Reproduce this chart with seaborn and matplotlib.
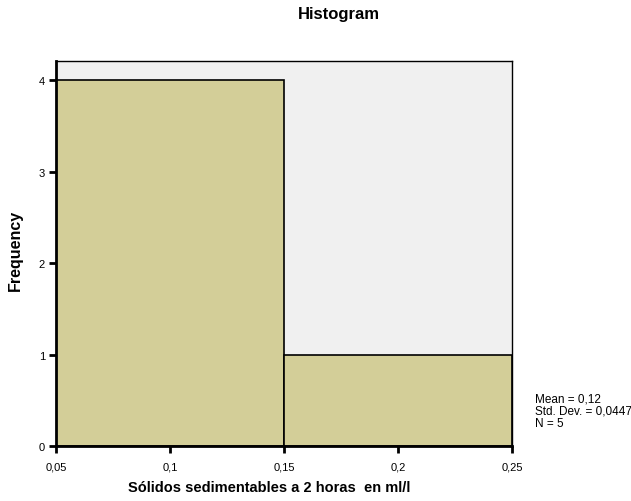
import numpy as np
import seaborn as sns
import matplotlib.pyplot as plt

# data
solidos = [0.1, 0.1, 0.1, 0.1, 0.2]
bin_edges = [0.05, 0.15, 0.25]
x_ticks = [0.05, 0.1, 0.15, 0.2, 0.25]
x_ticklabels = ["0,05", "0,1", "0,15", "0,2", "0,25"]
y_ticks = [0, 1, 2, 3, 4]
stats_text = "Mean = 0,12\nStd. Dev. = 0,0447\nN = 5"

sns.set_style("white")
plt.rcParams['font.family'] = ['Liberation Sans', 'DejaVu Sans']
plt.rcParams['text.color'] = 'black'
plt.rcParams['xtick.color'] = 'black'
plt.rcParams['ytick.color'] = 'black'

fig = plt.figure(figsize=(6.31, 5.02), dpi=100)
ax = fig.add_axes([56/631, 55/502, 456/631, 385/502])
ax.set_facecolor("#f0f0f0")

sns.histplot(x=solidos, bins=bin_edges, stat="count", ax=ax,
             color="#d3ce98", alpha=1, edgecolor="black", linewidth=1.2)

ax.set_xlim(0.05, 0.25)
ax.set_ylim(0, 4.21)
ax.set_xticks(x_ticks)
ax.set_xticklabels(x_ticklabels)
ax.set_yticks(y_ticks)
ax.tick_params(axis="both", direction="out", length=5, width=2, labelsize=8,
               color="black", labelcolor="black", bottom=True, left=True)
ax.tick_params(axis="x", pad=6)
ax.tick_params(axis="y", pad=3)
ax.set_xlabel("")
ax.set_ylabel("")

for side in ["left", "bottom"]:
    ax.spines[side].set_linewidth(2)
    ax.spines[side].set_color("black")
for side in ["top", "right"]:
    ax.spines[side].set_linewidth(1)
    ax.spines[side].set_color("black")

fig.text(339/631, 1 - 14/502, "Histogram", ha="center", va="center",
         fontsize=12, fontweight="bold")
fig.text(269/631, 1 - 488/502, "Sólidos sedimentables a 2 horas  en ml/l",
         ha="center", va="center", fontsize=10.5, fontweight="bold")
fig.text(15/631, 1 - 250/502, "Frequency", ha="center", va="center",
         rotation=90, fontsize=11.5, fontweight="bold")
fig.text(535/631, 1 - 412/502, stats_text, ha="left", va="center",
         fontsize=8.5, linespacing=1.05)

fig.savefig("out.png", dpi=100)
